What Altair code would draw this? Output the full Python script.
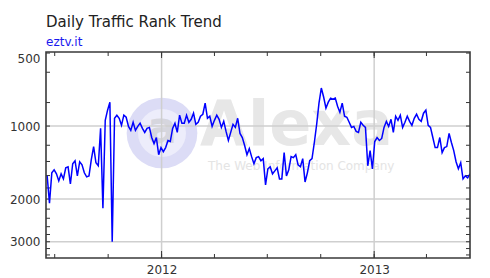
import altair as alt
import pandas as pd

TITLE = "Daily Traffic Rank Trend"
SUBTITLE = "eztv.it"

# Daily traffic rank, sampled every 4 days starting 2011-06-18
START_DATE = "2011-06-18"
STEP_DAYS = 4
RANKS = [
    1605, 2080, 1559, 1515, 1574, 1684, 1574, 1652, 1486, 1472,
    1733, 1430, 1390, 1605, 1403, 1444, 1559, 1620, 1605, 1376,
    1215, 1417, 1458, 1022, 2180, 947, 860, 797, 3000, 929,
    902, 929, 993, 902, 920, 1003, 1042, 965, 1042, 1003,
    974, 1022, 1062, 1022, 1013, 1115, 1181, 1115, 1312, 1227,
    1275, 1227, 1147, 1158, 1022, 974, 1062, 902, 974, 974,
    902, 965, 938, 885, 984, 965, 911, 894, 804, 929,
    911, 1003, 947, 902, 938, 1013, 956, 1052, 1147, 1062,
    984, 1013, 929, 1073, 1115, 1203, 1312, 1239, 1337, 1430,
    1350, 1337, 1390, 1363, 1749, 1501, 1472, 1574, 1530, 1486,
    1652, 1652, 1287, 1605, 1515, 1337, 1350, 1312, 1444, 1472,
    1363, 1700, 1559, 1390, 1363, 1169, 984, 804, 697, 759,
    844, 797, 767, 774, 767, 828, 877, 804, 911, 920,
    965, 1013, 1003, 1052, 1062, 965, 993, 1013, 1458, 1263,
    1501, 1158, 1115, 1147, 1125, 1013, 956, 1003, 938, 1062,
    911, 947, 902, 1013, 965, 911, 956, 993, 929, 894,
    938, 956, 885, 860, 993, 1013, 1115, 1227, 1227, 1115,
    1287, 1227, 1215, 1073, 1169, 1263, 1403, 1501, 1417, 1652,
    1605, 1636, 1574,
]

Y_LABELS = [500, 1000, 2000, 3000]
Y_GRID = [1000, 2000, 3000]
Y_TICKS = [500, 600, 800, 1000, 1200, 1400, 1600, 1800, 2000,
           2200, 2400, 2600, 2800, 3000, 3200, 3400]
X_MAJOR = ["2012-01-01", "2013-01-01"]
X_MINOR = ["2011-07-01", "2011-10-01", "2012-01-01", "2012-04-01",
           "2012-07-01", "2012-10-01", "2013-01-01", "2013-04-01"]
WATERMARK_NAME = "Alexa"
WATERMARK_TAG = "The Web Information Company"

W, H = 424, 206
FONT = "DejaVu Sans"
TICK_COLOR = "#333333"
FRAME_COLOR = "#3a3a3a"
GRID_COLOR = "#cfcfcf"

dates = pd.date_range(START_DATE, periods=len(RANKS), freq=f"{STEP_DAYS}D").strftime("%Y-%m-%d")
df = pd.DataFrame({"date": dates, "rank": RANKS})

x_scale = alt.Scale(
    type="utc",
    domain=[alt.DateTime(year=2011, month=6, date=16, utc=True),
            alt.DateTime(year=2013, month=6, date=15, utc=True)],
    nice=False,
)
y_scale = alt.Scale(type="log", domain=[495, 3500], reverse=True, nice=False)

x_axis = alt.Axis(
    values=[alt.DateTime(year=int(d[:4]), month=1, date=1, utc=True) for d in X_MAJOR],
    format="%Y", title=None, ticks=False, domain=False, grid=False,
    labelFont=FONT, labelFontSize=12, labelColor="#333333", labelPadding=6,
)
y_axis = alt.Axis(
    values=Y_LABELS, format="d", title=None, ticks=False, domain=False, grid=False,
    labelFont=FONT, labelFontSize=12, labelColor="#333333", labelPadding=6,
    labelFlush=3,
)

X = lambda: alt.X("date:T", scale=x_scale, axis=x_axis)
Y = lambda: alt.Y("rank:Q", scale=y_scale, axis=y_axis)

one = pd.DataFrame({"k": [0]})

# watermark
wm_circle = alt.Chart(one).mark_circle(color="#dcdcf6", opacity=1).encode(
    x=alt.value(116), y=alt.value(81), size=alt.value(5000))
wm_inner = alt.Chart(one).mark_circle(color="#ededfb", opacity=1).encode(
    x=alt.value(116), y=alt.value(81), size=alt.value(2300))
wm_a = alt.Chart(one).mark_text(text="a", font=FONT, fontWeight="bold", fontSize=44,
                                color="#d6d6de", baseline="middle", align="center").encode(
    x=alt.value(116), y=alt.value(78))
wm_name = alt.Chart(one).mark_text(text=WATERMARK_NAME, font=FONT, fontWeight="bold", fontSize=62,
                                   color="#e7e7e7", baseline="alphabetic", align="left").encode(
    x=alt.value(154), y=alt.value(93))
wm_tag = alt.Chart(one).mark_text(text=WATERMARK_TAG, font=FONT, fontSize=12,
                                  color="#e4e4e4", baseline="alphabetic", align="left").encode(
    x=alt.value(162), y=alt.value(118))

# gridlines
grid_y = alt.Chart(pd.DataFrame({"rank": Y_GRID})).mark_rule(
    color=GRID_COLOR, strokeWidth=1.5).encode(y=Y())
grid_x = alt.Chart(pd.DataFrame({"date": X_MAJOR})).mark_rule(
    color=GRID_COLOR, strokeWidth=1.5).encode(x=X())

# inward ticks
ydf = pd.DataFrame({"rank": Y_TICKS})
tick_l = alt.Chart(ydf).mark_rule(color=TICK_COLOR).encode(y=Y(), x=alt.value(0), x2=alt.value(4))
tick_r = alt.Chart(ydf).mark_rule(color=TICK_COLOR).encode(y=Y(), x=alt.value(W - 4), x2=alt.value(W))
xmin = pd.DataFrame({"date": X_MINOR})
xmaj = pd.DataFrame({"date": X_MAJOR})
tick_b = alt.Chart(xmin).mark_rule(color=TICK_COLOR).encode(x=X(), y=alt.value(H), y2=alt.value(H - 4))
tick_t = alt.Chart(xmin).mark_rule(color=TICK_COLOR).encode(x=X(), y=alt.value(0), y2=alt.value(4))
tick_bm = alt.Chart(xmaj).mark_rule(color=TICK_COLOR).encode(x=X(), y=alt.value(H), y2=alt.value(H - 7))
tick_tm = alt.Chart(xmaj).mark_rule(color=TICK_COLOR).encode(x=X(), y=alt.value(0), y2=alt.value(6))

line = alt.Chart(df).mark_line(color="#0000ff", strokeWidth=1.5, clip=True).encode(x=X(), y=Y())

# plot frame drawn on top
frame = alt.Chart(one).mark_rect(fill=None, stroke=FRAME_COLOR, strokeWidth=1.6).encode(
    x=alt.value(0), x2=alt.value(W), y=alt.value(0), y2=alt.value(H))

chart = alt.layer(
    wm_circle, wm_inner, wm_a, wm_name, wm_tag,
    grid_y, grid_x, tick_l, tick_r, tick_b, tick_t, tick_bm, tick_tm, line, frame,
).properties(
    width=W, height=H,
    background="white",
    autosize=alt.AutoSizeParams(type="none"),
    padding={"left": 46, "top": 52, "right": 20, "bottom": 20},
    title=alt.TitleParams(
        text=TITLE, subtitle=SUBTITLE, anchor="start", frame="group",
        font=FONT, fontSize=15, fontWeight="normal", color="#222222",
        subtitleFont=FONT, subtitleFontSize=12, subtitleColor="#1a1aee",
        subtitlePadding=7, offset=3,
    ),
).configure_view(
    stroke=None
)

chart.save("out.html", embed_options={"renderer": "svg", "actions": False})
